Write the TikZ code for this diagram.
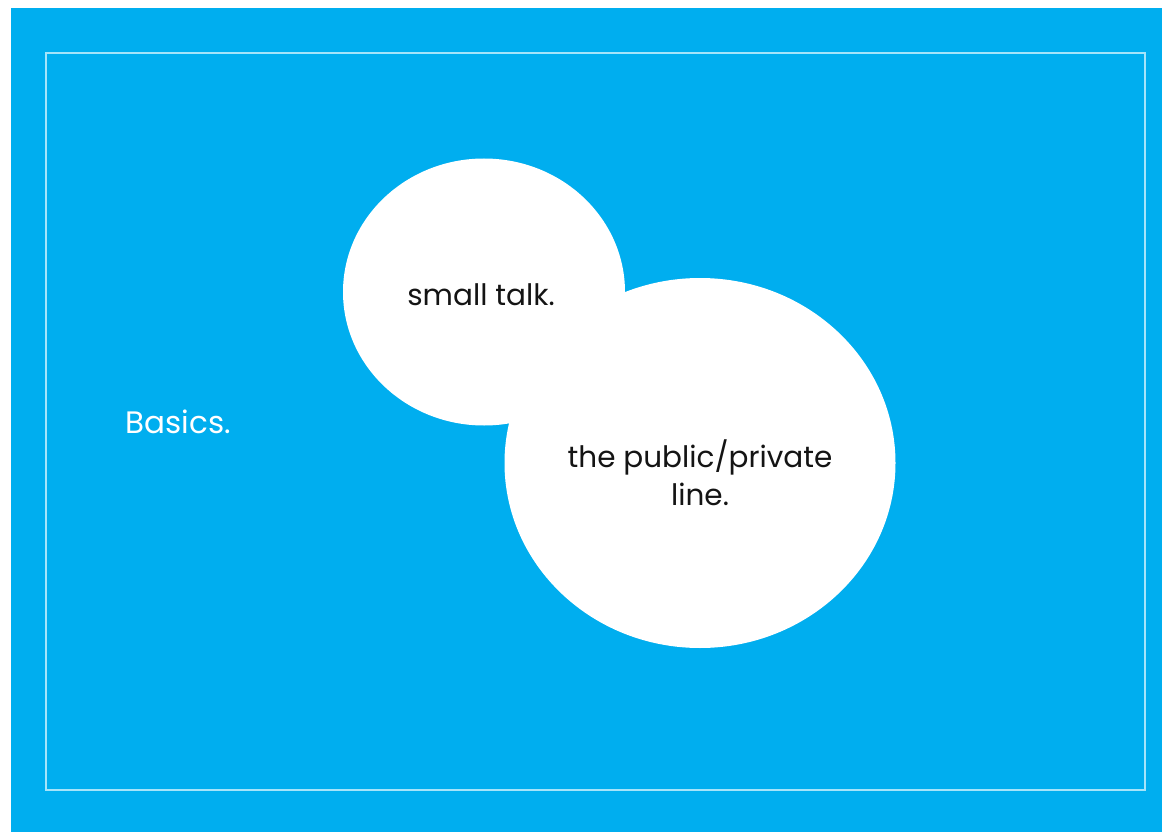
\documentclass[tikz,border=0pt]{standalone}
\usepackage{fontspec}
\setmainfont{Poppins}
\usepackage{xcolor}
\definecolor{slideblue}{RGB}{0, 174, 239}
\definecolor{framecyan}{RGB}{165, 228, 250}
\definecolor{inkblack}{RGB}{20, 20, 20}
\usetikzlibrary{shapes.geometric, positioning}

\begin{document}
\begin{tikzpicture}[x=1pt, y=-1pt,
        bubble/.style={ellipse, fill=white, draw=none, inner sep=0pt},
        bubbletext/.style={text=inkblack, font=\fontsize{29.5}{38}\selectfont, align=center},
        titletext/.style={text=white, font=\fontsize{31}{36}\selectfont, anchor=base west}]

        % page and frame
        \useasboundingbox (0,0) rectangle (1162,832);
        \fill [white] (0,0) rectangle (1162,832);
        \fill [slideblue] (11,8) rectangle (1162,832);
        \draw [framecyan, line width=1.4pt] (46,53) rectangle (1145,790);

        % bubbles
        \node [bubble, minimum width=282pt, minimum height=267pt] (smalltalk) at (484,292) {};
        \node [bubble, minimum width=391pt, minimum height=370pt] (publine) at (700,463) {};

        \node [bubbletext] (smalltalklabel) at (481,295) {small talk.};
        \node [bubbletext] (publinelabel) at (700,473) {the public/private\\line.};

        \node [titletext] (basics) at (122,433) {Basics.};
\end{tikzpicture}
\end{document}
